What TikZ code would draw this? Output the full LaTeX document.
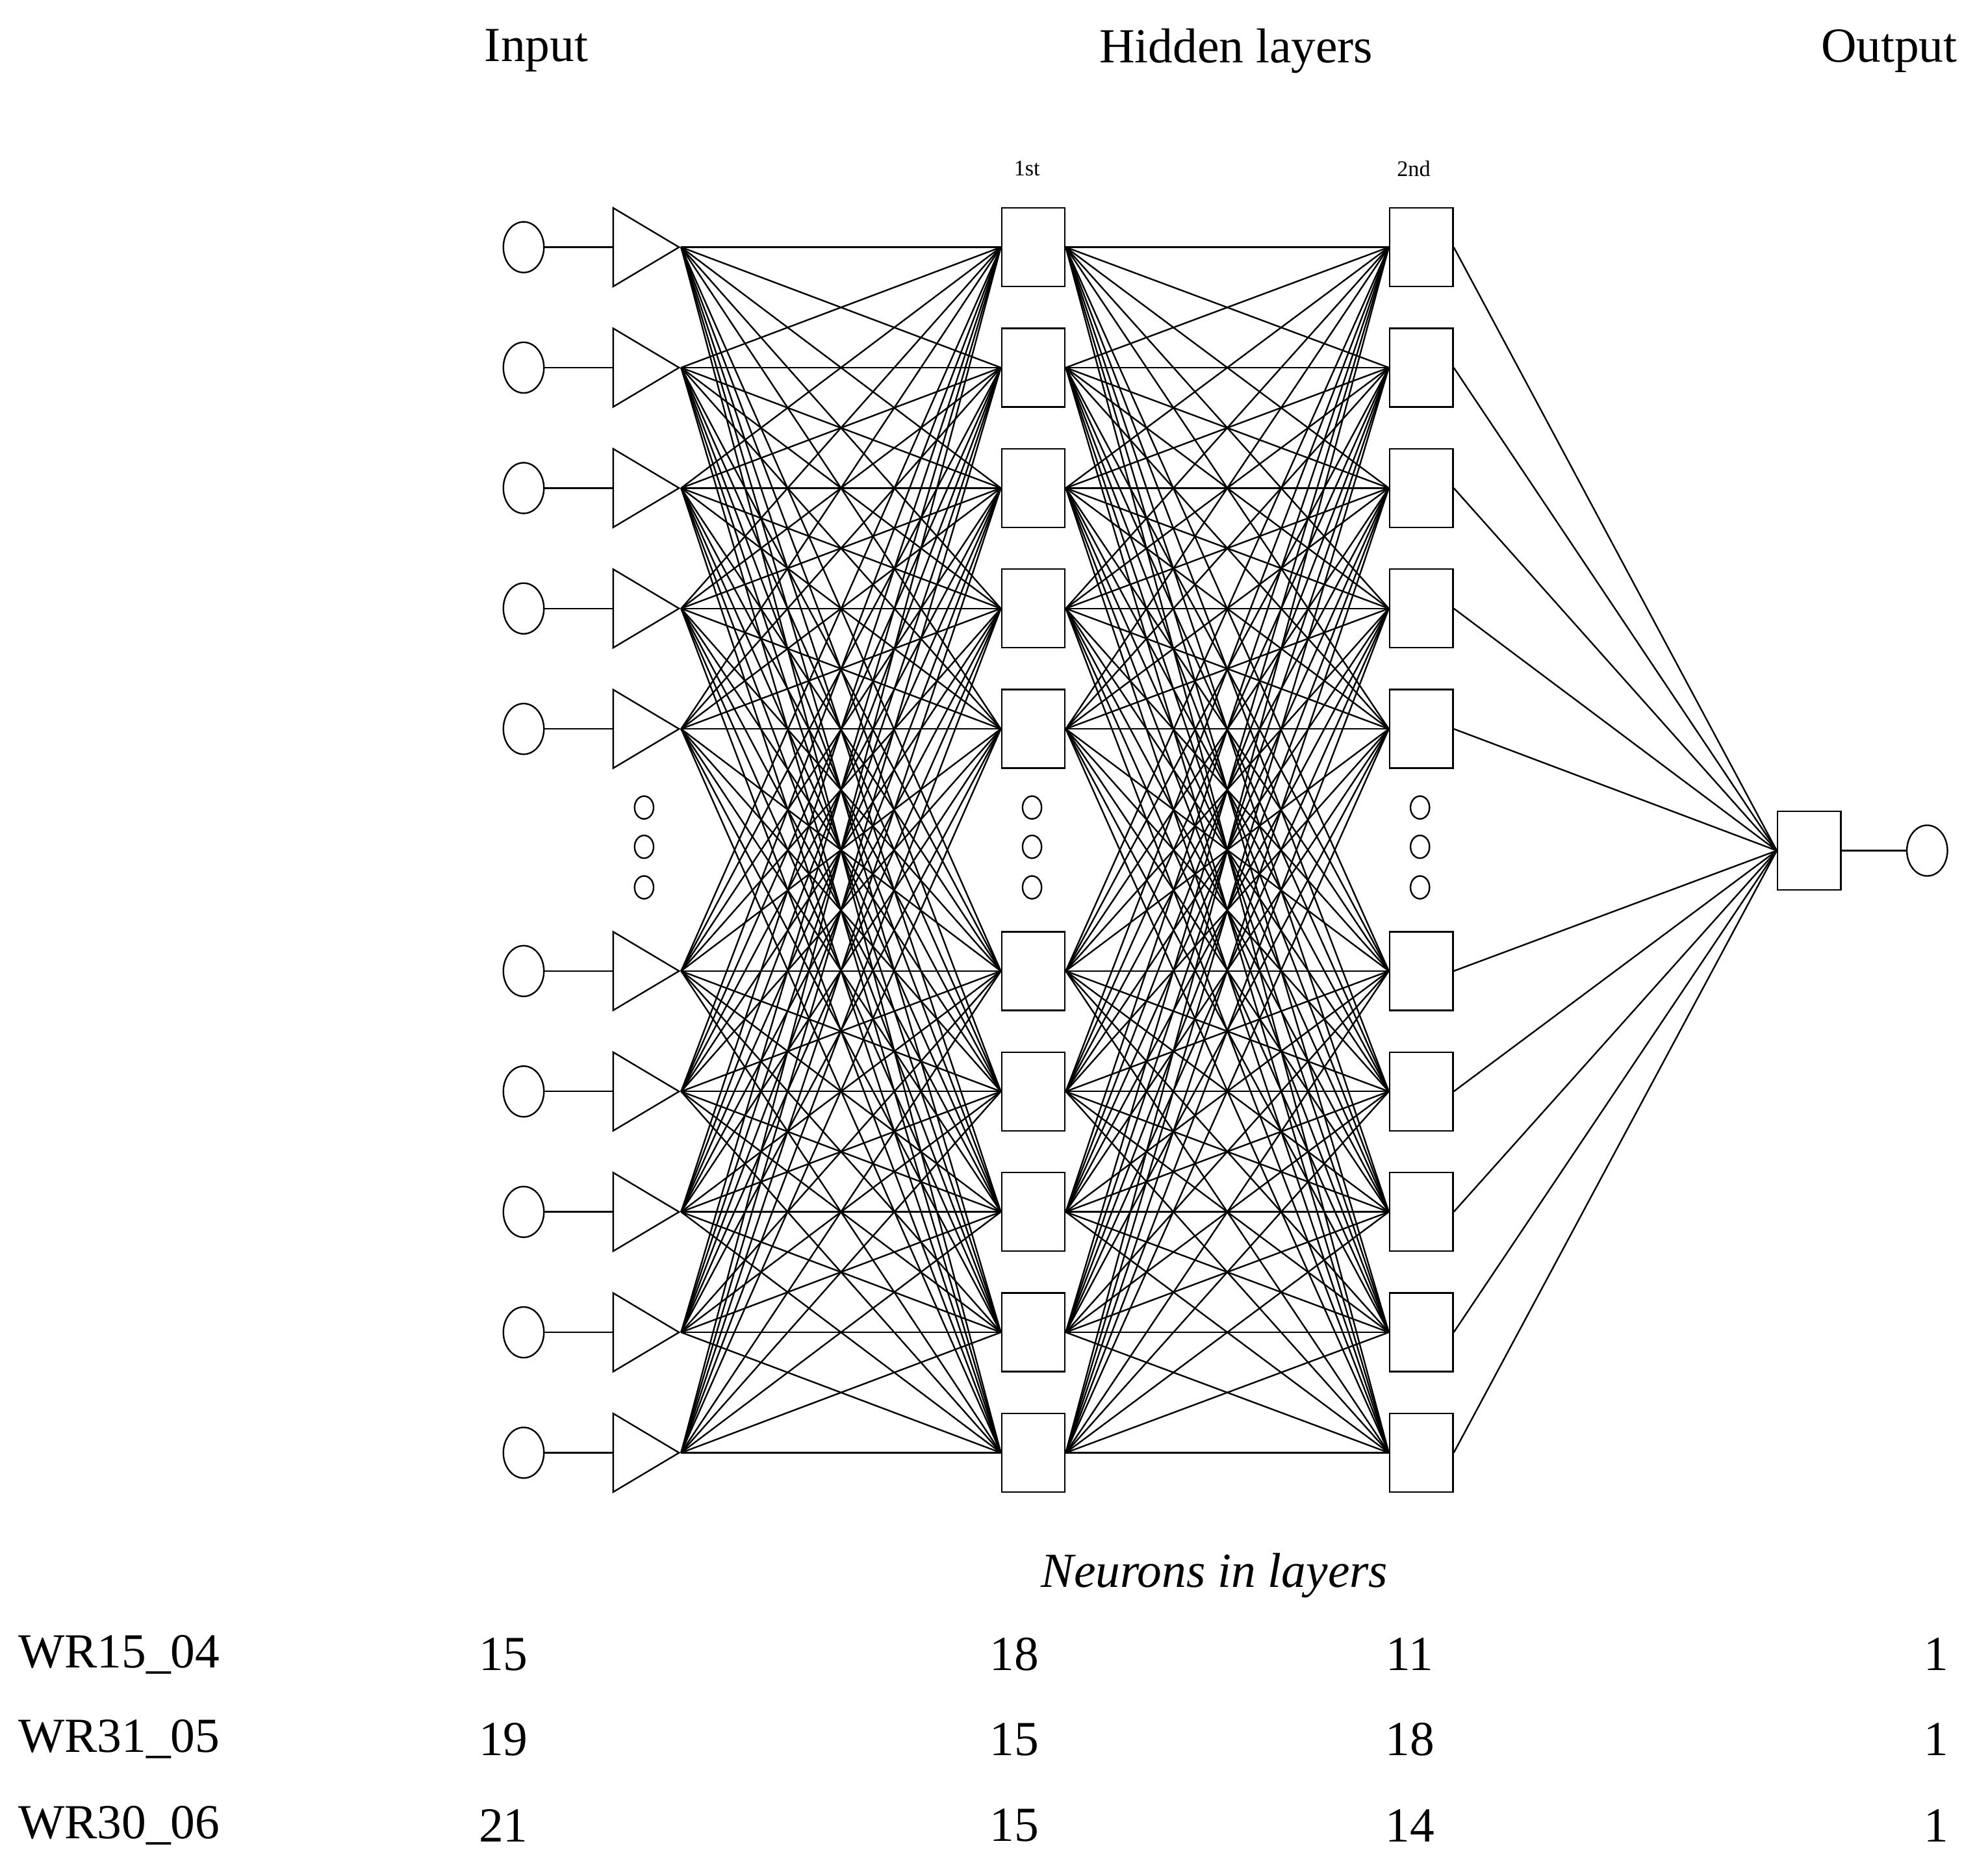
\documentclass[tikz,border=0pt]{standalone}
\usepackage{fontspec}
\setmainfont{Liberation Serif}
\usetikzlibrary{positioning, shapes.geometric}

\begin{document}
\begin{tikzpicture}[x=0.02cm, y=-0.02cm, line width=0.7pt,
    inp/.style={shape=ellipse, draw, minimum width=0.64cm, minimum height=0.8cm, inner sep=0pt},
    tri/.style={shape=isosceles triangle, draw, isosceles triangle stretches, minimum width=1.24cm, minimum height=1.04cm, inner sep=0pt, anchor=west},
    unit/.style={shape=rectangle, draw, fill=white, minimum width=1.0cm, minimum height=1.24cm, inner sep=0pt},
    dot/.style={shape=ellipse, draw, minimum width=0.3cm, minimum height=0.36cm, inner sep=0pt},
    big/.style={font=\fontsize{22}{26}\selectfont},
    small/.style={font=\fontsize{10}{12}\selectfont}]
    \useasboundingbox (0,0) rectangle (1568,1478);

    % layers
    \foreach \i/\y in {1/195, 2/290, 3/385, 4/480, 5/575, 6/766, 7/861, 8/956, 9/1051, 10/1146} {
        \node[inp] (I\i) at (413, \y) {};
        \node[tri] (T\i) at (483, \y) {};
        \node[unit] (H\i) at (815, \y) {};
        \node[unit] (K\i) at (1121, \y) {};
        \path [-] (I\i) edge (T\i);
    }
    \node[unit] (O) at (1427, 671) {};
    \node[inp] (Y) at (1520, 671) {};
    \path [-] (O) edge (Y);

    % connections
    \foreach \i in {1,...,10} {
        \foreach \j in {1,...,10} {
            \draw (T\i.apex) -- (H\j.west);
            \draw (H\i.east) -- (K\j.west);
        }
        \draw (K\i.east) -- (O.west);
    }
    \foreach \i in {1,...,10} {
        \node[unit] at (H\i) {};
        \node[unit] at (K\i) {};
    }

    % dots
    \foreach \x/\n in {508/a, 814/b, 1120/c} {
        \node[dot] (\n1) at (\x, 637) {};
        \node[dot] (\n2) at (\x, 668) {};
        \node[dot] (\n3) at (\x, 700) {};
    }

    % titles
    \node[big] (tIn) at (423, 40) {Input};
    \node[big] (tHid) at (975, 40) {Hidden layers};
    \node[big] (tOut) at (1490, 40) {Output};
    \node[small] (t1) at (810, 133) {1st};
    \node[small] (t2) at (1115, 133) {2nd};

    % table
    \node[big, font=\fontsize{22}{26}\selectfont\itshape] (tNeu) at (958, 1243) {Neurons in layers};
    \foreach \r/\y/\a/\b/\c in {WR15\_04/1305/15/18/11, WR31\_05/1372/19/15/18, WR30\_06/1440/21/15/14} {
        \node[big, anchor=west] at (8, \y) {\r};
        \node[big] at (397, \y) {\a};
        \node[big] at (800, \y) {\b};
        \node[big] at (1112, \y) {\c};
        \node[big] at (1527, \y) {1};
    }
\end{tikzpicture}
\end{document}
